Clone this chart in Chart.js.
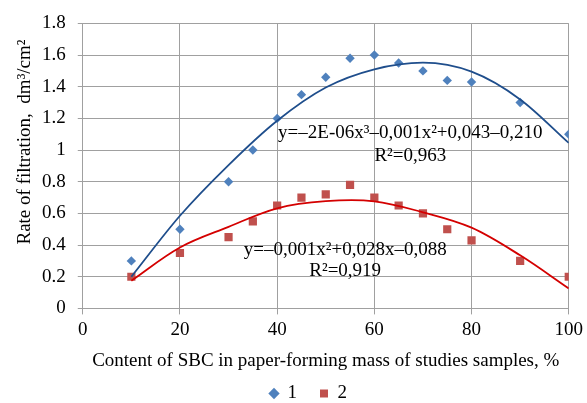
<!DOCTYPE html>
<html>
<head>
<meta charset="utf-8">
<script src="https://cdn.jsdelivr.net/npm/chart.js@4"></script>
<style>
  html, body { margin: 0; padding: 0; background: #fff; }
  #box { width: 587px; height: 403px; }
</style>
</head>
<body>
<div id="box"><canvas id="myChart"></canvas></div>
<script>
const content = [10, 20, 30, 35, 40, 45, 50, 55, 60, 65, 70, 75, 80, 90, 100];
const series1 = [0.3, 0.5, 0.8, 1.0, 1.2, 1.35, 1.46, 1.58, 1.6, 1.55, 1.5, 1.44, 1.43, 1.3, 1.1];
const series2 = [0.2, 0.35, 0.45, 0.55, 0.65, 0.7, 0.72, 0.78, 0.7, 0.65, 0.6, 0.5, 0.43, 0.3, 0.2];

// trend curves
const trendX = [10, 20, 30, 40, 50, 60, 70, 80, 90, 100];
const trend1 = [0.2, 0.585, 0.905, 1.185, 1.395, 1.51, 1.552, 1.495, 1.32, 1.045];
const trend2 = [0.175, 0.385, 0.515, 0.632, 0.677, 0.676, 0.607, 0.51, 0.335, 0.126];

const legendLabels = ["1", "2"];
const eq1 = ["y=–2E-06x³–0,001x²+0,043–0,210", "R²=0,963"];
const eq2 = ["y=–0,001x²+0,028x–0,088", "R²=0,919"];
const yTitle = "Rate of filtration,  dm³/cm²";

const blue = "#4F81BD";
const red = "#C0504D";
const font = "'Liberation Serif', 'Times New Roman', serif";
const fs = 19;

const toPoints = (xs, ys) => xs.map((x, i) => ({ x: x, y: ys[i] }));

const equations = {
    id: "equations",
    afterDatasetsDraw(chart) {
        const { ctx, scales } = chart;
        ctx.save();
        ctx.font = fs + "px " + font;
        ctx.fillStyle = "#000";
        ctx.textAlign = "center";
        ctx.textBaseline = "middle";
        const put = (lines, x, y1, y2) => {
            ctx.fillText(lines[0], scales.x.getPixelForValue(x), scales.y.getPixelForValue(y1));
            ctx.fillText(lines[1], scales.x.getPixelForValue(x), scales.y.getPixelForValue(y2));
        };
        put(eq1, 67.4, 1.107, 0.962);
        put(eq2, 54, 0.366, 0.233);

        // y axis title, sits a little above the plot centre like in the original
        ctx.translate(25, 142);
        ctx.rotate(-Math.PI / 2);
        ctx.fillText(yTitle, 0, 0);
        ctx.restore();
    },
};

const ctx = document.getElementById("myChart");

new Chart(ctx, {
    type: "scatter",
    data: {
        datasets: [
            {
                label: legendLabels[0],
                data: toPoints(content, series1),
                pointStyle: "rectRot",
                pointRadius: 4.7,
                backgroundColor: blue,
                borderColor: blue,
                borderWidth: 0,
                order: 1,
            },
            {
                label: legendLabels[1],
                data: toPoints(content, series2),
                pointStyle: "rect",
                pointRadius: 5.8,
                backgroundColor: red,
                borderColor: red,
                borderWidth: 0,
                order: 1,
            },
            {
                label: "trend1",
                data: toPoints(trendX, trend1),
                showLine: true,
                pointRadius: 0,
                borderColor: "#1F4E8C",
                borderWidth: 1.8,
                cubicInterpolationMode: "monotone",
                order: 0,
            },
            {
                label: "trend2",
                data: toPoints(trendX, trend2),
                showLine: true,
                pointRadius: 0,
                borderColor: "#D40000",
                borderWidth: 1.8,
                tension: 0.35,
                order: 0,
            },
        ],
    },
    plugins: [equations],
    options: {
        responsive: true,
        maintainAspectRatio: false,
        animation: false,
        layout: {
            padding: { top: 6, right: 0, left: 30, bottom: -10 },
        },
        scales: {
            x: {
                min: 0,
                max: 100,
                ticks: { stepSize: 20, color: "#000", font: { family: font, size: fs }, padding: 4 },
                grid: { color: "#a0a0a0", tickLength: 6 },
                border: { color: "#a0a0a0" },
                title: {
                    display: true,
                    text: "Content of SBC in paper-forming mass of studies samples, %",
                    color: "#000",
                    font: { family: font, size: fs },
                    padding: { top: 4, bottom: 8 },
                },
            },
            y: {
                min: 0,
                max: 1.8,
                ticks: {
                    stepSize: 0.2,
                    color: "#000",
                    font: { family: font, size: fs },
                    padding: 12,
                    callback: (v) => String(Number(v.toFixed(1))),
                },
                grid: { color: "#a0a0a0", tickLength: 5 },
                border: { color: "#a0a0a0" },
            },
        },
        plugins: {
            legend: {
                position: "bottom",
                labels: {
                    // only the two measured series, with a wider gap between them
                    generateLabels: (chart) =>
                        Chart.defaults.plugins.legend.labels
                            .generateLabels(chart)
                            .filter((item) => item.datasetIndex < 2)
                            .map((item) => ({
                                ...item,
                                text: item.datasetIndex === 0 ? item.text + "    " : item.text,
                            })),
                    usePointStyle: true,
                    boxWidth: 8,
                    boxHeight: 8,
                    color: "#000",
                    font: { family: font, size: fs },
                    padding: 4,
                },
            },
            tooltip: { enabled: false },
        },
    },
});
</script>
</body>
</html>
